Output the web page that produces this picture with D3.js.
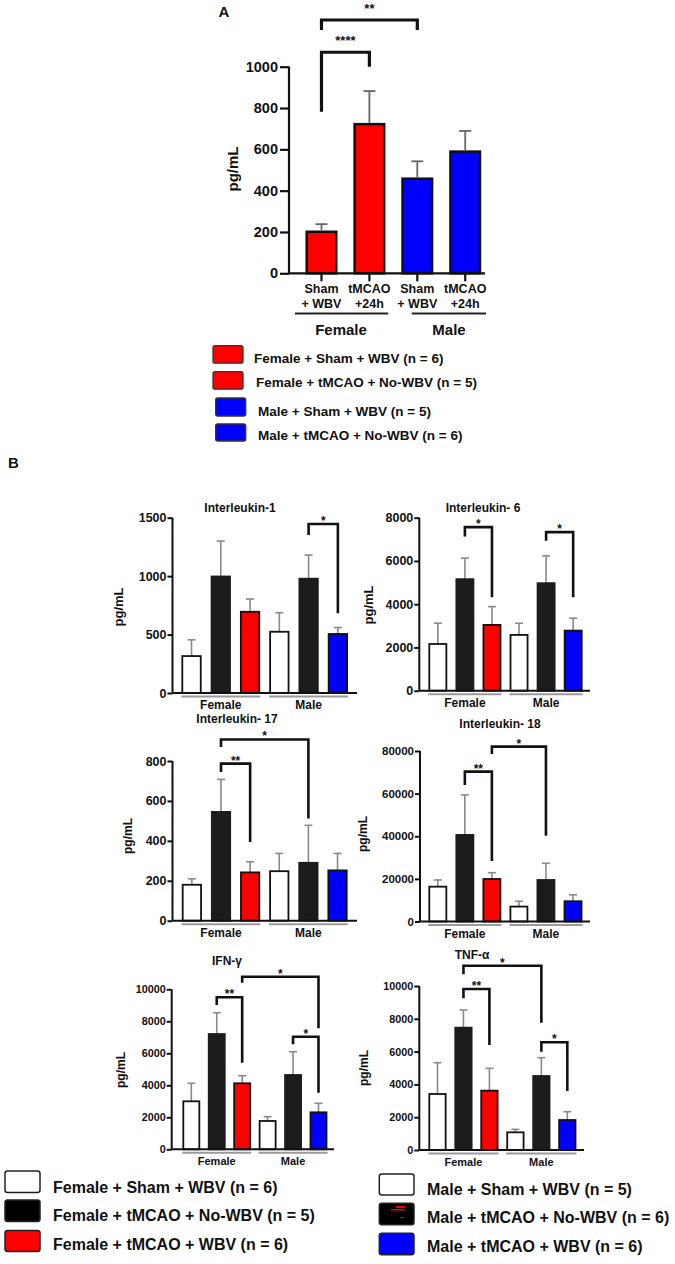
<!DOCTYPE html>
<html><head><meta charset="utf-8">
<script src="https://cdn.jsdelivr.net/npm/d3@7"></script>
<style>
body{margin:0;background:#fff}
svg{display:block}
text{font-family:"Liberation Sans",Arial,Helvetica,sans-serif;font-weight:bold;fill:#111}
</style>
</head><body>
<svg id="c" width="675" height="1264"></svg>
<script>
// ---------------- DATA ----------------
// Panel A
const catsA = [["Sham","+ WBV"],["tMCAO","+24h"],["Sham","+ WBV"],["tMCAO","+24h"]];
const sexes = ["Female","Male"];
const meanA = [201, 722, 458, 589];
const semA  = [37, 160, 84, 100];
const colorA = ["#ff0000","#ff0000","#0000ff","#0000ff"];
const ticksA = [0, 200, 400, 600, 800, 1000];
const legendA = ["Female + Sham + WBV (n = 6)","Female + tMCAO + No-WBV (n = 5)","Male + Sham + WBV (n = 5)","Male + tMCAO + No-WBV (n = 6)"];
// brackets: [fromBar, toBar, topValue, leftEndValue, rightEndValue, label]
const bracketsA = [[0,1,1070,782,1000,"****"],[0,2,1226,1178,1178,"**"]];

// Panel B
const cytokines = ["Interleukin-1","Interleukin- 6","Interleukin- 17","Interleukin- 18","IFN-γ","TNF-α"];
const seriesB = ["Female + Sham + WBV (n = 6)","Female + tMCAO + No-WBV (n = 5)","Female + tMCAO + WBV (n = 6)","Male + Sham + WBV (n = 5)","Male + tMCAO + No-WBV (n = 6)","Male + tMCAO + WBV (n = 6)"];
const fillsB = ["#ffffff","#1c1c1c","#ff0000","#ffffff","#1c1c1c","#0000ff"];

const il1Mean  = [316, 997, 695, 524, 978, 505];
const il1Sem   = [139, 303, 109, 163, 202, 55];
const il6Mean  = [2160, 5157, 3042, 2579, 4972, 2778];
const il6Sem   = [960, 973, 847, 541, 1264, 574];
const il17Mean = [180, 545, 242, 248, 290, 252];
const il17Sem  = [30, 163, 53, 89, 188, 85];
const il18Mean = [16340, 40610, 19950, 7000, 19480, 9500];
const il18Sem  = [3140, 18780, 2950, 2500, 7820, 3000];
const ifnMean  = [3000, 7206, 4125, 1770, 4644, 2312];
const ifnSem   = [1125, 1331, 475, 270, 1456, 563];
const tnfMean  = [3415, 7459, 3618, 1077, 4512, 1829];
const tnfSem   = [1910, 1078, 1362, 183, 1118, 508];

const il1Ticks  = [0, 500, 1000, 1500];
const il6Ticks  = [0, 2000, 4000, 6000, 8000];
const il17Ticks = [0, 200, 400, 600, 800];
const il18Ticks = [0, 20000, 40000, 60000, 80000];
const ifnTicks  = [0, 2000, 4000, 6000, 8000, 10000];
const tnfTicks  = [0, 2000, 4000, 6000, 8000, 10000];

const il1Brackets  = [[4,5,1446,1352,682,"*"]];
const il6Brackets  = [[1,2,7565,7130,4324,"*"],[4,5,7333,6931,4324,"*"]];
const il17Brackets = [[1,2,787,745,394,"**"],[1,4,908,870,512,"*"]];
const il18Brackets = [[1,2,70329,64085,28400,"**"],[2,4,82066,78638,40282,"*"]];
const ifnBrackets  = [[1,2,9500,9019,5412,"**"],[2,5,10788,10412,7562,"*"],[4,5,7037,6562,3537,"*"]];
const tnfBrackets  = [[1,2,9817,9250,6402,"**"],[1,4,11238,10713,7762,"*"],[4,5,6567,5994,3598,"*"]];

// ---------------- DRAW ----------------
const svg = d3.select("#c");

function bracket(g, x, y, b, lw, fs, dy) {
  const xl = x(b[0]) + x.bandwidth()/2, xr = x(b[1]) + x.bandwidth()/2;
  const yt = y(b[2]);
  g.append("path")
    .attr("d", `M${xl},${y(b[3])}V${yt}H${xr}V${y(b[4])}`)
    .attr("fill","none").attr("stroke","#111").attr("stroke-width",lw)
    .attr("stroke-linejoin","miter");
  g.append("text").attr("x",(xl+xr)/2).attr("y",yt - dy)
    .attr("text-anchor","middle").attr("font-size",fs).text(b[5]);
}

// ---- Panel A ----
(function(){
  const g = svg.append("g");
  const L = {ax:289, axEnd:485, y0:273.3, yTop:66.7, b0:306.7, b1:480};
  const y = d3.scaleLinear().domain([0,1000]).range([L.y0, L.yTop]);
  const x = d3.scaleBand().domain(d3.range(meanA.length)).range([L.b0, L.b1]).paddingInner(0.383).paddingOuter(0);

  g.append("text").attr("x",224).attr("y",17).attr("font-size",15).attr("text-anchor","middle").text("A");

  // bars
  g.selectAll("rect.bar").data(meanA).join("rect")
    .attr("x",(d,i)=>x(i)).attr("y",d=>y(d)).attr("width",x.bandwidth())
    .attr("height",d=>y(0)-y(d)).attr("fill",(d,i)=>colorA[i])
    .attr("stroke","#111").attr("stroke-width",2.5);
  // error bars
  meanA.forEach((m,i)=>{
    const cx = x(i)+x.bandwidth()/2;
    g.append("line").attr("x1",cx).attr("x2",cx).attr("y1",y(m)-1.2).attr("y2",y(m+semA[i]))
      .attr("stroke","#666").attr("stroke-width",1.8);
    g.append("line").attr("x1",cx-6).attr("x2",cx+6).attr("y1",y(m+semA[i])).attr("y2",y(m+semA[i]))
      .attr("stroke","#666").attr("stroke-width",1.8);
  });
  // y axis
  const ya = g.append("g").attr("transform",`translate(${L.ax},0)`)
    .call(d3.axisLeft(y).tickValues(ticksA).tickSize(9).tickPadding(2).tickFormat(d3.format("d")));
  ya.select(".domain").attr("stroke","#111").attr("stroke-width",2.2).attr("d",`M0,${L.y0}V${L.yTop}`);
  ya.selectAll(".tick line").attr("stroke","#111").attr("stroke-width",2.2);
  ya.selectAll(".tick text").attr("font-size",14.5).attr("font-family","Liberation Sans, Arial").attr("font-weight","bold").attr("fill","#111");
  // x axis
  g.append("line").attr("x1",L.ax).attr("x2",L.axEnd).attr("y1",L.y0).attr("y2",L.y0).attr("stroke","#111").attr("stroke-width",2.2);
  meanA.forEach((m,i)=>{
    const cx = x(i)+x.bandwidth()/2;
    g.append("line").attr("x1",cx).attr("x2",cx).attr("y1",L.y0).attr("y2",L.y0+8).attr("stroke","#111").attr("stroke-width",2.2);
    g.append("text").attr("x",cx).attr("y",293).attr("text-anchor","middle").attr("font-size",12.5).text(catsA[i][0]);
    g.append("text").attr("x",cx).attr("y",308).attr("text-anchor","middle").attr("font-size",12.5).text(catsA[i][1]);
  });
  // group lines
  [[295,388.3],[411.7,486]].forEach((p,k)=>{
    g.append("line").attr("x1",p[0]).attr("x2",p[1]).attr("y1",313.5).attr("y2",313.5).attr("stroke","#222").attr("stroke-width",1.8);
    g.append("text").attr("x",k===0?341:449).attr("y",335).attr("text-anchor","middle").attr("font-size",15).text(sexes[k]);
  });
  // y title
  g.append("text").attr("transform","translate(238,169) rotate(-90)").attr("text-anchor","middle").attr("font-size",15).text("pg/mL");
  // brackets
  bracketsA.forEach(b=>bracket(g,x,y,b,3.2,13,7));

  // legend
  const lb = [[213,345.7,30,17.5,254,358.5],[213,371.7,30,17.5,256,382],[215.7,398,30,18,258,411],[215.7,424,30,17,258,435.5]];
  legendA.forEach((t,i)=>{
    const p = lb[i];
    g.append("rect").attr("x",p[0]).attr("y",p[1]).attr("width",p[2]).attr("height",p[3]).attr("rx",2)
      .attr("fill",colorA[i]).attr("stroke","#333").attr("stroke-width",1.3);
    g.append("text").attr("x",p[4]).attr("y",p[5]).attr("dy","0.35em").attr("font-size",13.5).text(t);
  });
})();

// ---- Panel B ----
svg.append("text").attr("x",8).attr("y",468).attr("font-size",15).text("B");

const panels = [
  {name:cytokines[0], mean:il1Mean, sem:il1Sem, ticks:il1Ticks, br:il1Brackets,
   L:{ax:172.5, axEnd:357, b0:182.3, b1:347.1, y0:693, yTop:517.7, tfs:12.5, tx:240, ty:508, ytx:118, yty:607, ytfs:13, gfs:12}},
  {name:cytokines[1], mean:il6Mean, sem:il6Sem, ticks:il6Ticks, br:il6Brackets,
   L:{ax:419.3, axEnd:590, b0:429.3, b1:581.7, y0:690.7, yTop:517.7, tfs:12.5, tx:483, ty:508, ytx:368, yty:605, ytfs:13, gfs:12}},
  {name:cytokines[2], mean:il17Mean, sem:il17Sem, ticks:il17Ticks, br:il17Brackets,
   L:{ax:172.5, axEnd:357, b0:182.7, b1:346.7, y0:920.7, yTop:761, tfs:12.5, tx:237, ty:719, ytx:128, yty:836, ytfs:12, gfs:12}},
  {name:cytokines[3], mean:il18Mean, sem:il18Sem, ticks:il18Ticks, br:il18Brackets,
   L:{ax:420, axEnd:590, b0:429.3, b1:581.5, y0:921.5, yTop:751, tfs:11.5, tx:500, ty:724, ytx:363, yty:834, ytfs:12, gfs:12}},
  {name:cytokines[4], mean:ifnMean, sem:ifnSem, ticks:ifnTicks, br:ifnBrackets,
   L:{ax:171.7, axEnd:334, b0:183.3, b1:326.5, y0:1149.3, yTop:989.3, tfs:10.8, tx:227, ty:961, ytx:121, yty:1070, ytfs:12, gfs:11}},
  {name:cytokines[5], mean:tnfMean, sem:tnfSem, ticks:tnfTicks, br:tnfBrackets,
   L:{ax:419.3, axEnd:584, b0:429.3, b1:575.5, y0:1150, yTop:986, tfs:10.8, tx:472, ty:955, ytx:364, yty:1068, ytfs:12, gfs:11}}
];

panels.forEach(P=>{
  const L = P.L, g = svg.append("g");
  const vTop = P.ticks[P.ticks.length-1];
  const y = d3.scaleLinear().domain([0,vTop]).range([L.y0, L.yTop]);
  const x = d3.scaleBand().domain(d3.range(P.mean.length)).range([L.b0, L.b1]).paddingInner(0.37).paddingOuter(0);

  // title
  g.append("text").attr("x",L.tx).attr("y",L.ty).attr("dy","0.35em").attr("text-anchor","middle").attr("font-size",12).text(P.name);

  // error bars (behind bars)
  P.mean.forEach((m,i)=>{
    const cx = x(i)+x.bandwidth()/2, top = y(m+P.sem[i]);
    g.append("line").attr("x1",cx).attr("x2",cx).attr("y1",y(m)).attr("y2",top).attr("stroke","#8a8a8a").attr("stroke-width",1.6);
    g.append("line").attr("x1",cx-4).attr("x2",cx+4).attr("y1",top).attr("y2",top).attr("stroke","#8a8a8a").attr("stroke-width",1.6);
  });
  // bars
  g.selectAll("rect.bar").data(P.mean).join("rect")
    .attr("x",(d,i)=>x(i)).attr("y",d=>y(d)).attr("width",x.bandwidth())
    .attr("height",d=>y(0)-y(d)).attr("fill",(d,i)=>fillsB[i])
    .attr("stroke",(d,i)=>fillsB[i]==="#1c1c1c"?"#1c1c1c":"#111").attr("stroke-width",1.8);

  // y axis
  const ya = g.append("g").attr("transform",`translate(${L.ax},0)`)
    .call(d3.axisLeft(y).tickValues(P.ticks).tickSize(5).tickPadding(1).tickFormat(d3.format("d")));
  ya.select(".domain").attr("stroke","#111").attr("stroke-width",2).attr("d",`M0,${L.y0}V${L.yTop}`);
  ya.selectAll(".tick line").attr("stroke","#111").attr("stroke-width",2);
  ya.selectAll(".tick text").attr("font-size",L.tfs).attr("font-family","Liberation Sans, Arial").attr("font-weight","bold").attr("fill","#111");
  // x axis
  g.append("line").attr("x1",L.ax).attr("x2",L.axEnd).attr("y1",L.y0).attr("y2",L.y0).attr("stroke","#111").attr("stroke-width",2);

  // group underline + labels
  [[0,2],[3,5]].forEach((r,k)=>{
    const x1 = x(r[0])-1, x2 = x(r[1])+x.bandwidth()+1;
    g.append("line").attr("x1",x1).attr("x2",x2).attr("y1",L.y0+3.5).attr("y2",L.y0+3.5).attr("stroke","#9a9a9a").attr("stroke-width",2);
    g.append("text").attr("x",(x1+x2)/2).attr("y",L.y0+12).attr("dy","0.35em").attr("text-anchor","middle").attr("font-size",L.gfs).text(sexes[k]);
  });
  // y title
  g.append("text").attr("transform",`translate(${L.ytx},${L.yty}) rotate(-90)`).attr("dy","0.35em").attr("text-anchor","middle").attr("font-size",L.ytfs).text("pg/mL");
  // brackets
  P.br.forEach(b=>bracket(g,x,y,b,2.6,12,-1));
});

// ---- Legend B ----
const lgB = [
  [5,1171,35,21.5,53,1187],[5,1200,35,21.5,53,1215.5],[5,1230.5,35,21,53,1244.5],
  [379.3,1174,34.7,21,427,1189],[379.3,1203.3,34.7,21.5,427,1217.5],[379.3,1233.3,34.7,21.5,427,1246]
];
seriesB.forEach((t,i)=>{
  const p = lgB[i];
  svg.append("rect").attr("x",p[0]).attr("y",p[1]).attr("width",p[2]).attr("height",p[3]).attr("rx",2.5)
    .attr("fill",fillsB[i]==="#1c1c1c"?"#000":fillsB[i]).attr("stroke","#222").attr("stroke-width",1.5);
  svg.append("text").attr("x",p[4]).attr("y",p[5]).attr("dy","0.35em").attr("font-size",16).text(t);
});
// small red artefact inside the male black legend box
svg.append("rect").attr("x",396).attr("y",1206).attr("width",9).attr("height",2).attr("fill","#e00");
svg.append("rect").attr("x",391).attr("y",1209).attr("width",14).attr("height",1.5).attr("fill","#e00");
svg.append("rect").attr("x",400).attr("y",1217).attr("width",4).attr("height",1).attr("fill","#e00");
</script>
</body></html>
